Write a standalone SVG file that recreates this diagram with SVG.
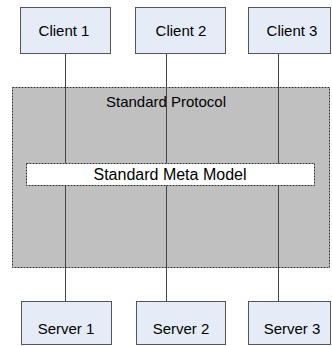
<svg xmlns="http://www.w3.org/2000/svg" width="332" height="346" viewBox="0 0 332 346">
<style>
.node{fill:#e6ecf7;stroke:#555;stroke-width:1}
.t{font-family:"Liberation Sans",Arial,sans-serif;font-size:15px;fill:#000;text-anchor:middle}
.conn{stroke:#444;stroke-width:1;fill:none}
</style>
<rect width="332" height="346" fill="#fff"/>
<g id="protocol">
<rect x="12.5" y="87.5" width="317" height="180" fill="#c0c0c0" stroke="#333" stroke-dasharray="2,1"/>
<text class="t" x="166" y="107">Standard Protocol</text>
</g>
<g id="connectors">
<line class="conn" x1="65.5" y1="53" x2="65.5" y2="301"/>
<line class="conn" x1="166.5" y1="53" x2="166.5" y2="301"/>
<line class="conn" x1="278.5" y1="53" x2="278.5" y2="301"/>
</g>
<g id="metamodel">
<rect x="26.5" y="163.5" width="288" height="22" fill="#fff" stroke="#333" stroke-dasharray="2,1"/>
<text class="t" x="170" y="180" style="font-size:16px">Standard Meta Model</text>
</g>
<g id="client1"><rect class="node" x="20.5" y="7.5" width="90" height="46"/><text class="t" x="64" y="35.5">Client 1</text></g>
<g id="client2"><rect class="node" x="135.5" y="7.5" width="90" height="46"/><text class="t" x="181" y="35.5">Client 2</text></g>
<g id="client3"><rect class="node" x="248.5" y="7.5" width="82" height="46"/><text class="t" x="292" y="35.5">Client 3</text></g>
<g id="server1"><rect class="node" x="21.5" y="301.5" width="90" height="43"/><text class="t" x="66" y="334">Server 1</text></g>
<g id="server2"><rect class="node" x="136.5" y="301.5" width="89" height="43"/><text class="t" x="181" y="334">Server 2</text></g>
<g id="server3"><rect class="node" x="248.5" y="301.5" width="82" height="43"/><text class="t" x="292" y="334">Server 3</text></g>
</svg>
